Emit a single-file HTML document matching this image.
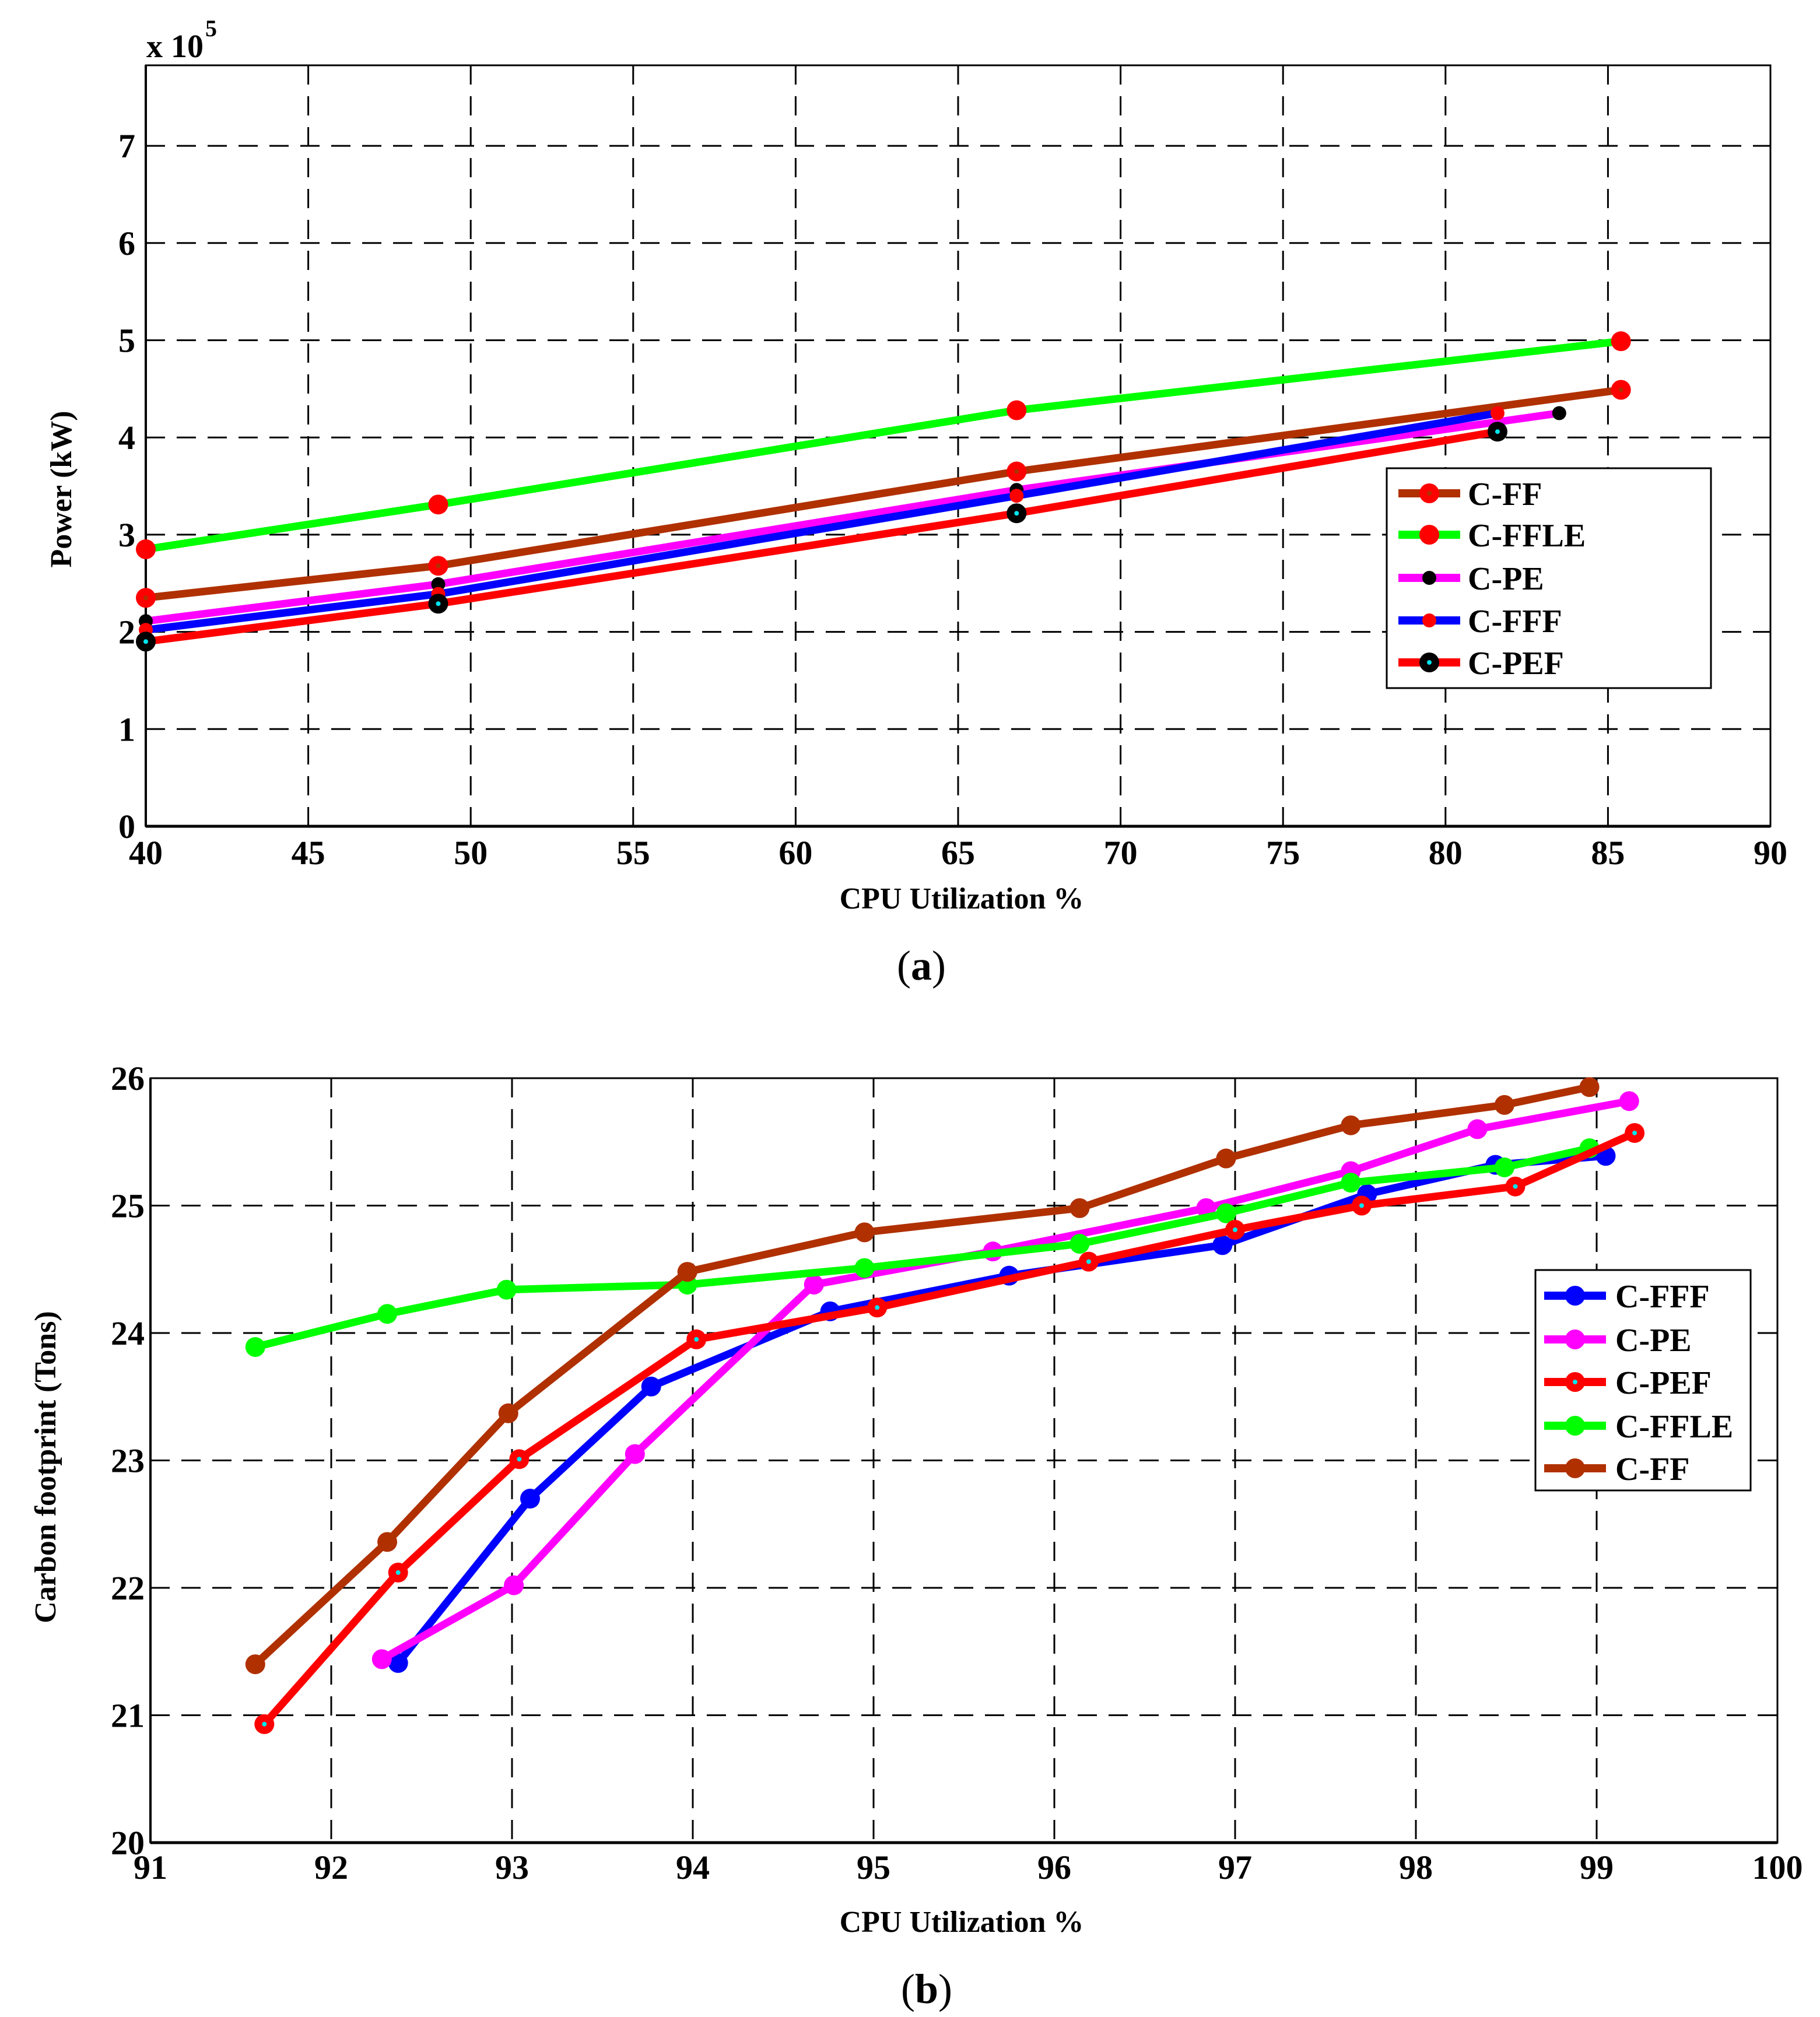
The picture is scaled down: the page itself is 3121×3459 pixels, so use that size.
<!DOCTYPE html>
<html><head><meta charset="utf-8">
<style>html,body{margin:0;padding:0;background:#fff}svg{display:block}</style></head>
<body>
<svg id="fig" xmlns="http://www.w3.org/2000/svg" width="3121" height="3459" viewBox="0 0 3121 3459" font-family="'Liberation Serif', serif">
<rect x="0" y="0" width="3121" height="3459" fill="#fff"/>
<g id="chartA"></g>
<g id="chartB"></g>
</svg>
<script>
// ---------- Chart (a) data ----------
const aXTicks = [40,45,50,55,60,65,70,75,80,85,90];
const aYTicks = [0,1,2,3,4,5,6,7];
const aNames = ['C-FF','C-FFLE','C-PE','C-FFF','C-PEF'];
const aFFx = [40,49,66.8,85.4];     const aFFy = [2.35,2.68,3.65,4.49];
const aFFLEx = [40,49,66.8,85.4];   const aFFLEy = [2.85,3.31,4.28,4.99];
const aPEx = [40,49,66.8,83.5];     const aPEy = [2.11,2.49,3.46,4.25];
const aFFFx = [40,49,66.8,81.6];    const aFFFy = [2.02,2.39,3.40,4.25];
const aPEFx = [40,49,66.8,81.6];    const aPEFy = [1.90,2.29,3.22,4.06];
// ---------- Chart (b) data ----------
const bXTicks = [91,92,93,94,95,96,97,98,99,100];
const bYTicks = [20,21,22,23,24,25,26];
const bFFFx = [92.37,93.10,93.77,94.76,95.75,96.93,97.73,98.44,99.05];
const bFFFy = [21.41,22.70,23.58,24.17,24.45,24.69,25.09,25.32,25.39];
const bPEx = [92.28,93.01,93.68,94.67,95.66,96.84,97.64,98.34,99.18];
const bPEy = [21.44,22.02,23.05,24.38,24.64,24.98,25.27,25.60,25.82];
const bPEFx = [91.63,92.37,93.04,94.02,95.02,96.19,97.00,97.70,98.55,99.21];
const bPEFy = [20.93,22.12,23.01,23.95,24.20,24.56,24.81,25.00,25.15,25.57];
const bFFLEx = [91.58,92.31,92.97,93.97,94.95,96.14,96.95,97.64,98.49,98.96];
const bFFLEy = [23.89,24.15,24.34,24.38,24.51,24.70,24.94,25.18,25.30,25.45];
const bFFx = [91.58,92.31,92.98,93.97,94.95,96.14,96.95,97.64,98.49,98.96];
const bFFy = [21.40,22.36,23.37,24.48,24.79,24.98,25.37,25.63,25.79,25.93];

const NS='http://www.w3.org/2000/svg';
function mk(parent, tag, attrs, text){
  const e=document.createElementNS(NS,tag);
  for(const k in attrs) e.setAttribute(k,attrs[k]);
  if(text!==undefined) e.textContent=text;
  parent.appendChild(e); return e;
}

function axes(g, box, xd, yd, xt, yt, xLabY, yLabX){
  const sx=v=>box.l+(v-xd[0])/(xd[1]-xd[0])*(box.r-box.l);
  const sy=v=>box.b-(v-yd[0])/(yd[1]-yd[0])*(box.b-box.t);
  xt.forEach(v=>{
    const x=sx(v);
    if(v!==xd[0]&&v!==xd[1]){
      const gl=mk(g,'line',{x1:x,x2:x,y1:box.t,y2:box.b,stroke:'#000','stroke-width':3,'stroke-dasharray':'33 20'});
      
      
    }
    const t=mk(g,'text',{x:x,y:xLabY,'text-anchor':'middle','font-size':58,'font-weight':'bold'},String(v));
    
    
  });
  yt.forEach(v=>{
    const y=sy(v);
    if(v!==yd[0]&&y>box.t+2){
      const gl=mk(g,'line',{x1:box.l,x2:box.r,y1:y,y2:y,stroke:'#000','stroke-width':3,'stroke-dasharray':'33 20'});
      
      
    }
    const t=mk(g,'text',{x:yLabX,y:y+20,'text-anchor':'end','font-size':58,'font-weight':'bold'},String(v));
    
    
  });
  const fr=mk(g,'rect',{x:box.l,y:box.t,width:box.r-box.l,height:box.b-box.t,fill:'none',stroke:'#000','stroke-width':3});
  
  
  mk(g,'line',{x1:box.l,x2:box.r,y1:box.b,y2:box.b,stroke:'#000','stroke-width':5});
  mk(g,'line',{x1:box.l,x2:box.l,y1:box.t,y2:box.b,stroke:'#000','stroke-width':4});
  return [sx,sy];
}

function marker(g,x,y,m){
  const c=mk(g,'circle',{cx:x,cy:y,r:m.r,fill:m.fill});
  
  
  if(m.dot) mk(g,'circle',{cx:x,cy:y,r:m.dotR||4,fill:m.dot});
}

function series(g,sx,sy,xs,ys,color,m,name){
  const s=mk(g,'g',{});
  
  
  const pts=xs.map((v,i)=>sx(v)+','+sy(ys[i])).join(' ');
  const pl=mk(s,'polyline',{points:pts,fill:'none',stroke:color,'stroke-width':13,'stroke-linejoin':'round'});
  
  
  xs.forEach((v,i)=>marker(s,sx(v),sy(ys[i]),m));
}

function legend(g,box,entries,lx1,lx2,tx){
  const lg=mk(g,'g',{});
  
  
  mk(lg,'rect',{x:box.x,y:box.y,width:box.w,height:box.h,fill:'#fff',stroke:'#000','stroke-width':3});
  entries.forEach(e=>{
    const eg=mk(lg,'g',{});
    
    
    mk(eg,'line',{x1:lx1,x2:lx2,y1:e.y,y2:e.y,stroke:e.color,'stroke-width':14});
    marker(eg,(lx1+lx2)/2,e.y,e.m);
    const t=mk(eg,'text',{x:tx,y:e.y+20,'font-size':56,'font-weight':'bold'},e.name);
    
    
  });
}

// ---------- Chart (a) ----------
(function(){
  const g=document.getElementById('chartA');
  const box={l:250,r:3036,t:112,b:1417};
  const [sx,sy]=axes(g,box,[40,90],[0,(1417-112)/166.7],aXTicks,aYTicks,1482,232);
  const mFF={r:17,fill:'#ff0000',dot:'#b03000',dotR:4};
  const mFFLE={r:17,fill:'#ff0000'};
  const mPE={r:12,fill:'#000'};
  const mFFF={r:12,fill:'#ff0000'};
  const mPEF={r:17,fill:'#000',dot:'#00e5ee',dotR:4};
  series(g,sx,sy,aFFLEx,aFFLEy,'#00ff00',mFFLE,'series-c-ffle');
  series(g,sx,sy,aFFx,aFFy,'#b03000',mFF,'series-c-ff');
  series(g,sx,sy,aPEx,aPEy,'#ff00ff',mPE,'series-c-pe');
  series(g,sx,sy,aFFFx,aFFFy,'#0000ff',mFFF,'series-c-fff');
  series(g,sx,sy,aPEFx,aPEFy,'#ff0000',mPEF,'series-c-pef');
  legend(g,{x:2378,y:803,w:556,h:377},[
    {name:aNames[0],y:846,color:'#b03000',m:mFF},
    {name:aNames[1],y:917,color:'#00ff00',m:mFFLE},
    {name:aNames[2],y:991,color:'#ff00ff',m:mPE},
    {name:aNames[3],y:1064,color:'#0000ff',m:mFFF},
    {name:aNames[4],y:1136,color:'#ff0000',m:mPEF}],2398,2504,2517);
  const ex=mk(g,'text',{x:251,y:98,'font-size':56,'font-weight':'bold'},'x 10');
  
  
  mk(g,'text',{x:352,y:62,'font-size':40,'font-weight':'bold'},'5');
  const yt=mk(g,'text',{x:0,y:0,'font-size':52,'font-weight':'bold','text-anchor':'middle',transform:'translate(122,839) rotate(-90)'},'Power (kW)');
  
  
  const xt=mk(g,'text',{x:1649,y:1558,'font-size':52,'font-weight':'bold','text-anchor':'middle'},'CPU Utilization %');
  
  
  const cap=mk(g,'text',{x:1580,y:1680,'font-size':72,'text-anchor':'middle'},'');
  
  
  cap.innerHTML='(<tspan font-weight="bold">a</tspan>)';
})();

// ---------- Chart (b) ----------
(function(){
  const g=document.getElementById('chartB');
  const box={l:258,r:3048,t:1849,b:3160};
  const [sx,sy]=axes(g,box,[91,100],[20,26],bXTicks,bYTicks,3222,248);
  const mFFF={r:17,fill:'#0000ff'};
  const mPE={r:17,fill:'#ff00ff'};
  const mPEF={r:17,fill:'#ff0000',dot:'#00e5ee',dotR:4};
  const mFFLE={r:17,fill:'#00ff00'};
  const mFF={r:17,fill:'#b03000'};
  series(g,sx,sy,bFFFx,bFFFy,'#0000ff',mFFF,'series-c-fff');
  series(g,sx,sy,bPEx,bPEy,'#ff00ff',mPE,'series-c-pe');
  series(g,sx,sy,bFFLEx,bFFLEy,'#00ff00',mFFLE,'series-c-ffle');
  series(g,sx,sy,bPEFx,bPEFy,'#ff0000',mPEF,'series-c-pef');
  series(g,sx,sy,bFFx,bFFy,'#b03000',mFF,'series-c-ff');
  legend(g,{x:2633,y:2178,w:369,h:378},[
    {name:'C-FFF',y:2222,color:'#0000ff',m:mFFF},
    {name:'C-PE',y:2297,color:'#ff00ff',m:mPE},
    {name:'C-PEF',y:2370,color:'#ff0000',m:mPEF},
    {name:'C-FFLE',y:2445,color:'#00ff00',m:mFFLE},
    {name:'C-FF',y:2518,color:'#b03000',m:mFF}],2648,2754,2770);
  const yt=mk(g,'text',{x:0,y:0,'font-size':52,'font-weight':'bold','text-anchor':'middle',transform:'translate(95,2516) rotate(-90)'},'Carbon footprint (Tons)');
  
  
  const xt=mk(g,'text',{x:1649,y:3313,'font-size':52,'font-weight':'bold','text-anchor':'middle'},'CPU Utilization %');
  
  
  const cap=mk(g,'text',{x:1589,y:3435,'font-size':72,'text-anchor':'middle'},'');
  
  
  cap.innerHTML='(<tspan font-weight="bold">b</tspan>)';
})();
</script>
</body></html>
